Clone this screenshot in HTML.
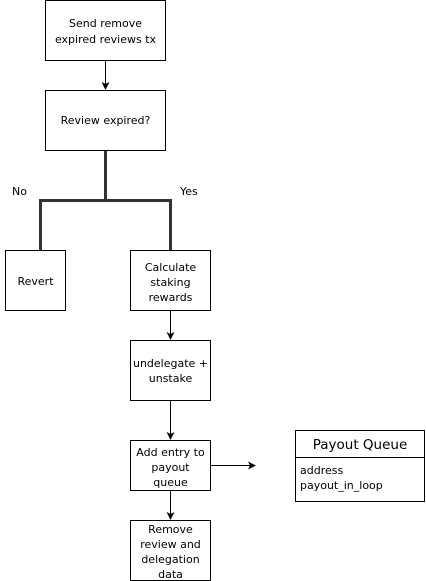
<!DOCTYPE html>
<html><head><meta charset="utf-8"><style>
html,body{margin:0;padding:0;background:#fff;}
svg{display:block;}
text{font-family:"DejaVu Sans","Liberation Sans",sans-serif;font-size:11px;fill:#000;}
</style></head><body>
<svg width="426" height="581" viewBox="0 0 426 581" xmlns="http://www.w3.org/2000/svg">
<defs><marker id="a" markerWidth="8" markerHeight="8" refX="7" refY="4" orient="auto" markerUnits="userSpaceOnUse"><path d="M0,0 L8,4 L0,8 L2,4 Z" fill="#000"/></marker></defs>
<g fill="#fff" stroke="#000" stroke-width="1">
<rect x="45.5" y="0.5" width="120" height="60"/>
<rect x="45.5" y="90.5" width="120" height="60"/>
<rect x="5.5" y="250.5" width="60" height="60"/>
<rect x="130.5" y="250.5" width="80" height="60"/>
<rect x="130.5" y="340.5" width="80" height="60"/>
<rect x="130.5" y="440.5" width="80" height="50"/>
<rect x="130.5" y="520.5" width="80" height="60"/>
<rect x="295.5" y="430.5" width="129" height="71"/>
<line x1="295.5" y1="457.5" x2="424.5" y2="457.5"/>
</g>
<g fill="none" stroke="#000" stroke-width="1">
<line x1="105.5" y1="61" x2="105.5" y2="89" marker-end="url(#a)"/>
<line x1="170.5" y1="311" x2="170.5" y2="339" marker-end="url(#a)"/>
<line x1="170.5" y1="401" x2="170.5" y2="439" marker-end="url(#a)"/>
<line x1="170.5" y1="491" x2="170.5" y2="519" marker-end="url(#a)"/>
<line x1="211" y1="465.5" x2="255" y2="465.5" marker-end="url(#a)"/>
</g>
<path d="M105.5,151 V200.5 H40.5 V250 M105.5,200.5 H170.5 V250" fill="none" stroke="#333" stroke-width="3"/>
<g text-anchor="middle">
<text x="105.5" y="27">Send remove</text>
<text x="105.5" y="43">expired reviews tx</text>
<text x="105.5" y="124">Review expired?</text>
<text x="35.5" y="285">Revert</text>
<text x="170.5" y="271">Calculate</text>
<text x="170.5" y="286">staking</text>
<text x="170.5" y="301">rewards</text>
<text x="170.5" y="367">undelegate +</text>
<text x="170.5" y="382">unstake</text>
<text x="170.5" y="456">Add entry to</text>
<text x="170.5" y="471">payout</text>
<text x="170.5" y="486">queue</text>
<text x="170.5" y="533">Remove</text>
<text x="170.5" y="548">review and</text>
<text x="170.5" y="563">delegation</text>
<text x="170.5" y="578">data</text>
<text x="360" y="449" style="font-size:13.5px">Payout Queue</text>
</g>
<text x="12" y="195">No</text>
<text x="180" y="195">Yes</text>
<text x="300" y="474">address</text>
<text x="300" y="489">payout_in_loop</text>
</svg>
</body></html>
